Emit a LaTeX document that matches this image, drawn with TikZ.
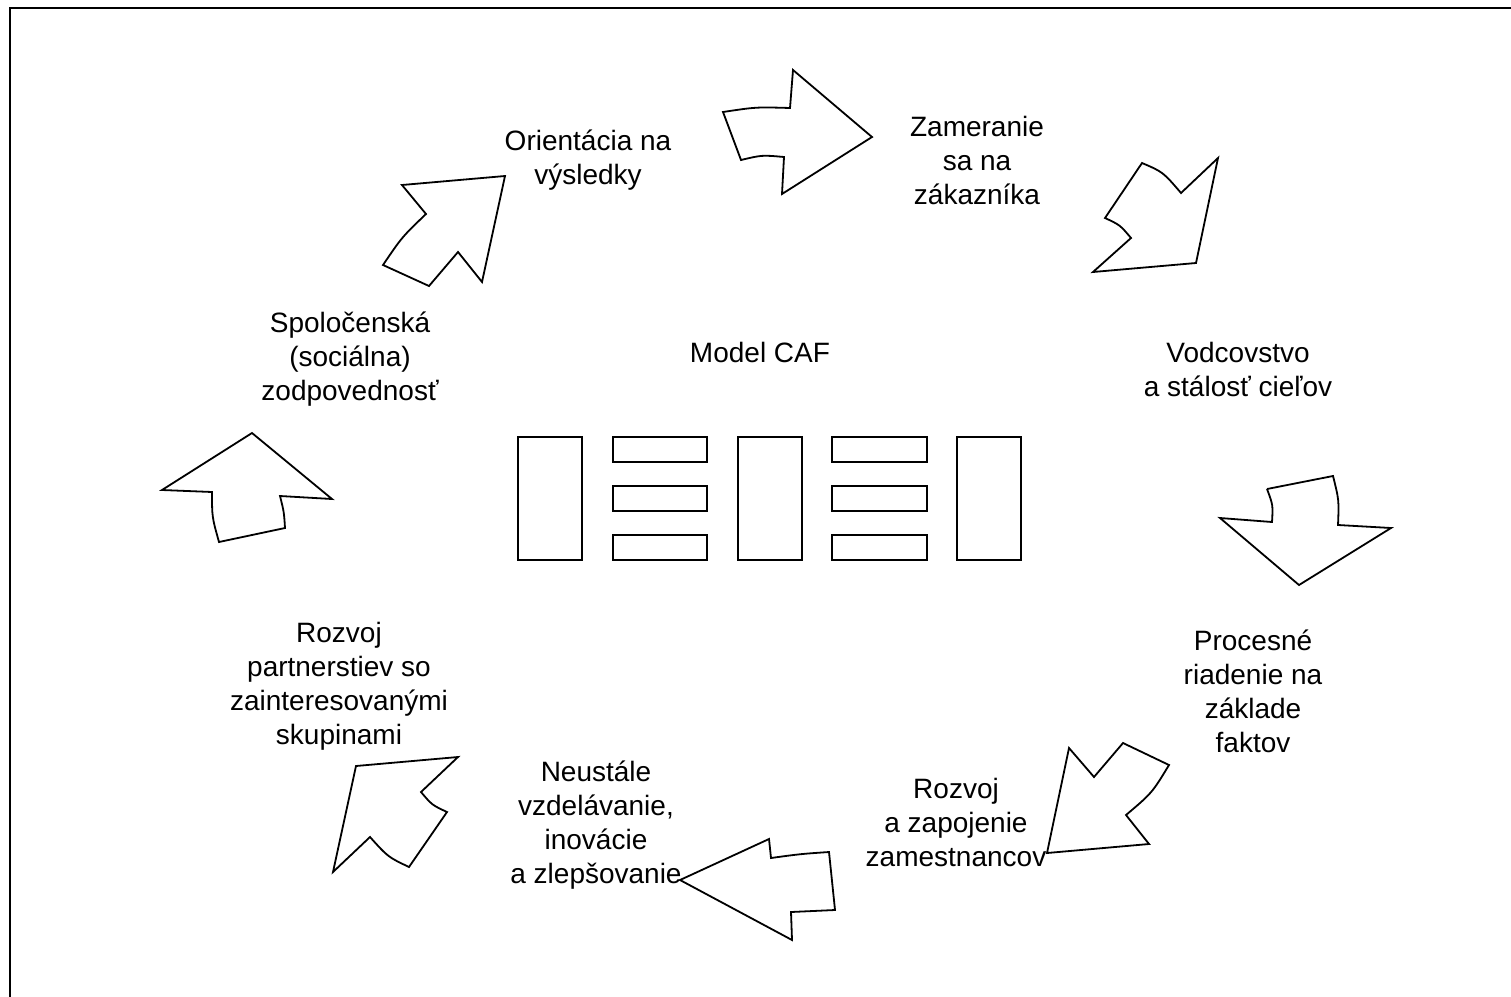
\documentclass[tikz,border=0pt]{standalone}
\usepackage{fontspec}
\setmainfont{Liberation Sans}
\usetikzlibrary{positioning}

\begin{document}
\begin{tikzpicture}[x=1pt, y=-1pt,
  sipka/.style={black, line width=1.8pt, line join=miter},
  obdl/.style={draw, line width=1.6pt},
  popis/.style={align=center, font=\fontsize{28}{34}\selectfont, inner sep=0pt}]

\useasboundingbox (0,0) rectangle (1511,996);
% ramik (vpravo a dole orezany)
\draw[line width=2.4pt] (10,1100) -- (10,8) -- (1600,8);

% ================= stred : Model CAF =================
\node[popis] (model) at (760,352) {Model CAF};
\draw[obdl] (518,437) rectangle (582,560);
\foreach \y in {437,486,535}
  \draw[obdl] (613,\y) rectangle (707,\y+25);
\draw[obdl] (738,437) rectangle (802,560);
\foreach \y in {437,486,535}
  \draw[obdl] (832,\y) rectangle (927,\y+25);
\draw[obdl] (957,437) rectangle (1021,560);

% ================= kriteria =================
\node[popis] (vysl) at (588,160) {Orientácia na\\výsledky};
\node[popis] (zak) at (977,160) {Zameranie\\sa na\\zákazníka};
\node[popis] (vodc) at (1238,369) {Vodcovstvo\\a stálosť cieľov};
\node[popis] (proc) at (1253,691) {Procesné\\riadenie na\\základe\\faktov};
\node[popis] (zam) at (956,822) {Rozvoj\\a zapojenie\\zamestnancov};
\node[popis] (vzdel) at (596,825) {Neustále\\vzdelávanie,\\inovácie\\a zlepšovanie};
\node[popis] (partn) at (339,686) {Rozvoj\\partnerstiev so\\zainteresovanými\\skupinami};
\node[popis] (spol) at (350,359) {Spoločenská\\(sociálna)\\zodpovednosť};

% ================= sipky =================
% hore, doprava
\draw[sipka] (723,112) .. controls (756,107) .. (790,108) -- (793,70) -- (872,137)
  -- (782,194) -- (784,157) .. controls (762,155) .. (741,160) -- cycle;
% vpravo hore, dole vlavo
\draw[sipka] (1142,163) .. controls (1163,172) .. (1181,193) -- (1218,158) -- (1196,263)
  -- (1093,272) -- (1131,238) .. controls (1120,225) .. (1105,218) -- cycle;
% vpravo, dole
\draw[sipka] (1267,489) -- (1333,476) .. controls (1339,500) .. (1338,525) -- (1391,528)
  -- (1299,585) -- (1220,518) -- (1272,522) .. controls (1273,505) .. (1267,489);
% vpravo dole, dole vlavo
\draw[sipka] (1123,743) -- (1169,765) .. controls (1152,793) .. (1126,815) -- (1149,844)
  -- (1047,853) -- (1069,748) -- (1094,777) -- cycle;
% dole, dolava
\draw[sipka] (680,880) -- (769,839) -- (771,858) .. controls (800,854) .. (829,852)
  -- (835,910) -- (791,912) -- (792,940) -- cycle;
% vlavo dole, hore vlavo
\draw[sipka] (356,766) -- (458,757) -- (421,792) .. controls (432,805) .. (447,812)
  -- (409,867) .. controls (388,857) .. (370,837) -- (333,872) -- cycle;
% vlavo, hore
\draw[sipka] (252,433) -- (332,499) -- (280,496) .. controls (284,512) .. (285,528)
  -- (219,542) .. controls (212,517) .. (212,492) -- (162,490) -- cycle;
% vlavo hore, hore vpravo
\draw[sipka] (402,185) -- (505,176) -- (482,282) -- (458,252) -- (429,286)
  -- (383,265) .. controls (402,237) .. (426,214) -- cycle;

\end{tikzpicture}
\end{document}
